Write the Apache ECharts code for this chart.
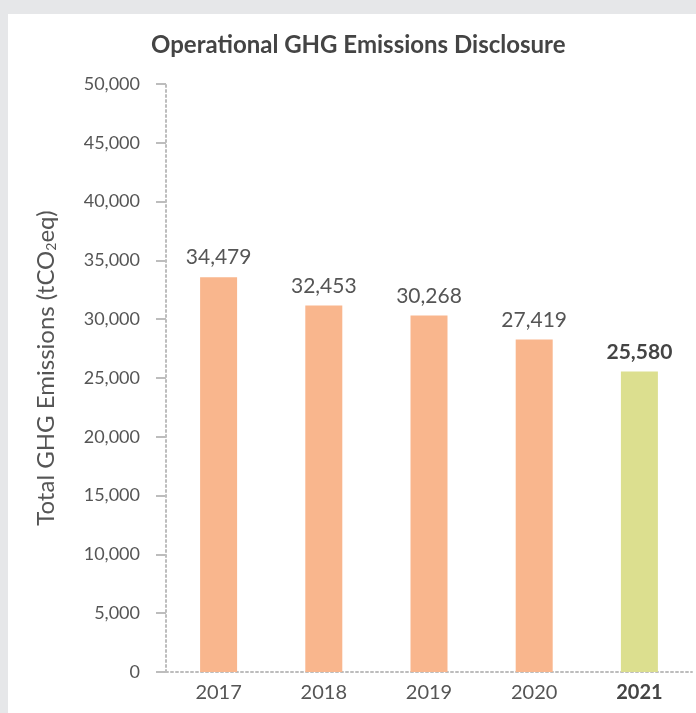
<!DOCTYPE html>
<html>
<head>
<meta charset="utf-8">
<title>Operational GHG Emissions Disclosure</title>
<script src="https://cdn.jsdelivr.net/npm/echarts@6/dist/echarts.min.js"></script>
<style>
    html, body { margin: 0; padding: 0; background: #e6e7e9; }
    #chart { position: absolute; left: 8px; top: 14px; width: 688px; height: 699px; background: #fff; }
</style>
</head>
<body>
<div id="chart"></div>
<script>
// years on the x axis
var years = ['2017', '2018', '2019', '2020', '2021'];
// bar heights as drawn in the picture (tCO2eq)
var barHeights = [33570, 31170, 30320, 28270, 25550];
// numbers printed above the bars
var printedValues = [34479, 32453, 30268, 27419, 25580];
var yTicks = [0, 50000, 5000]; // min, max, step

var orange = '#f9b68d',
    green = '#dcdf8f',
    textColor = '#555',
    lineColor = '#bdbdbd',
    font = 'Lato, "Noto Sans", sans-serif';

function fmt(n) {
    return n.toString().replace(/\B(?=(\d{3})+(?!\d))/g, ',');
}

var lastIdx = years.length - 1;
var data = [];
for (var i = 0; i < barHeights.length; i++) {
    var isLast = i == lastIdx;
    data.push({
        value: barHeights[i],
        itemStyle: { color: isLast ? green : orange },
        label: {
            fontWeight: isLast ? 'bold' : 'normal',
            color: isLast ? '#444' : textColor
        }
    });
}

var chart = echarts.init(document.getElementById('chart'));
chart.setOption({
    animation: false,
    textStyle: { fontFamily: font },
    title: {
        text: 'Operational GHG Emissions Disclosure',
        left: 138,
        top: 14,
        textStyle: { fontFamily: font, fontSize: 24, fontWeight: 'bold', color: '#444' }
    },
    grid: { left: 158, top: 70, right: 4, bottom: 41, containLabel: false },
    xAxis: {
        type: 'category',
        data: years,
        axisLine: { lineStyle: { color: lineColor, type: [2, 3], width: 2 } },
        axisTick: { show: false },
        axisLabel: {
            margin: 11,
            fontSize: 20,
            color: textColor,
            formatter: function(v) {
                return v == years[lastIdx] ? '{b|' + v + '}' : v;
            },
            rich: { b: { fontSize: 20, fontWeight: 'bold', color: '#444', fontFamily: font } }
        }
    },
    yAxis: {
        type: 'value',
        min: yTicks[0],
        max: yTicks[1],
        interval: yTicks[2],
        name: 'Total GHG Emissions (tCO{sub|2}eq)',
        nameLocation: 'middle',
        nameGap: 108,
        nameTextStyle: {
            fontSize: 24,
            color: textColor,
            padding: [0, 0, 0, 20],
            rich: { sub: { fontSize: 14, color: textColor, verticalAlign: 'bottom', padding: [8, 0, 0, 0], fontFamily: font } }
        },
        axisLine: { show: true, lineStyle: { color: lineColor, type: [2, 3], width: 2 } },
        axisTick: { show: true, length: 10, lineStyle: { color: lineColor, width: 2 } },
        splitLine: { show: false },
        axisLabel: {
            margin: 26,
            fontSize: 18,
            color: textColor,
            formatter: function(v) { return fmt(v); }
        }
    },
    series: [{
        type: 'bar',
        barWidth: 37,
        data: data,
        label: {
            show: true,
            position: 'top',
            distance: 9,
            fontSize: 21,
            fontFamily: font,
            formatter: function(p) { return fmt(printedValues[p.dataIndex]); }
        }
    }]
});
</script>
</body>
</html>
